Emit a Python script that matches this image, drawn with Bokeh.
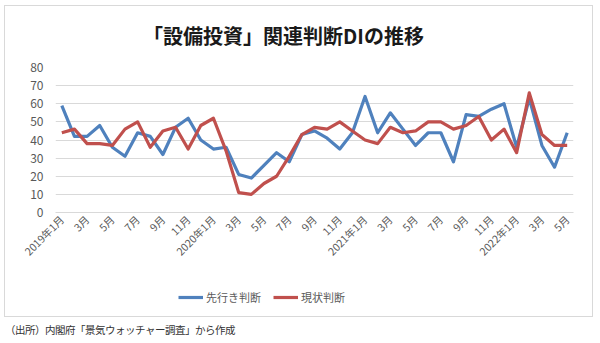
import math
from bokeh.plotting import figure
from bokeh.layouts import column
from bokeh.models import Range1d, FixedTicker, Legend, LegendItem, Label, Div
from bokeh.embed import file_html
from bokeh.resources import INLINE

# ---- data ----
tick_labels = ["2019年1月", "3月", "5月", "7月", "9月", "11月",
               "2020年1月", "3月", "5月", "7月", "9月", "11月",
               "2021年1月", "3月", "5月", "7月", "9月", "11月",
               "2022年1月", "3月", "5月"]

outlook = [59, 42, 42, 48, 36, 31, 44, 42, 32, 47, 52, 40,
           35, 36, 21, 19, 26, 33, 28, 43, 45, 41, 35, 44,
           64, 44, 55, 46, 37, 44, 44, 28, 54, 53, 57, 60,
           36, 63, 37, 25, 44]

current = [44, 46, 38, 38, 37, 46, 50, 36, 45, 47, 35, 48,
           52, 34, 11, 10, 16, 20, 31, 43, 47, 46, 50, 45,
           40, 38, 47, 44, 45, 50, 50, 46, 48, 53, 40, 46,
           33, 66, 43, 37, 37]

series_names = ["先行き判断", "現状判断"]
series_colors = ["#4f81bd", "#c0504d"]
title_text = "「設備投資」関連判断DIの推移"
source_text = "（出所）内閣府「景気ウォッチャー調査」から作成"

x = list(range(len(outlook)))
JP = "Noto Sans CJK JP"
GREY = "#595959"

W = 587
H_T, H_P, H_Q, H_D = 51, 213, 46, 26


def strip(h):
    f = figure(width=W, height=h, x_range=Range1d(0, 1), y_range=Range1d(0, 1),
               output_backend="svg", toolbar_location=None, tools="",
               x_axis_type=None, y_axis_type=None,
               min_border_left=0, min_border_right=0, min_border_top=0,
               min_border_bottom=0)
    f.outline_line_color = None
    f.xgrid.visible = False
    f.ygrid.visible = False
    f.background_fill_color = "white"
    f.border_fill_color = "white"
    return f


# ---------------- title strip ----------------
t = strip(H_T)
t.add_layout(Label(x=228, y=22, x_units="screen", y_units="screen",
                   text=title_text, text_align="center", text_baseline="middle",
                   text_font=JP, text_font_style="bold", text_font_size="20px",
                   text_color="#1a1a1a"))

# ---------------- main chart ----------------
p = figure(width=W, height=H_P, x_range=Range1d(-0.5, len(x) - 0.5),
           y_range=Range1d(0, 80), output_backend="svg", toolbar_location=None,
           tools="", min_border_left=50, min_border_right=19,
           min_border_top=10, min_border_bottom=58)
p.outline_line_color = None
p.background_fill_color = "white"
p.border_fill_color = "white"

p.xgrid.visible = False
p.ygrid.grid_line_color = "#d9d9d9"
p.ygrid.grid_line_width = 1

p.yaxis.ticker = FixedTicker(ticks=list(range(0, 81, 10)))
p.yaxis.axis_line_color = None
p.yaxis.major_tick_line_color = None
p.yaxis.minor_tick_line_color = None
p.yaxis.major_tick_out = 0
p.yaxis.major_tick_in = 0
p.yaxis.major_label_standoff = 12
p.yaxis.major_label_text_font = JP
p.yaxis.major_label_text_font_size = "12px"
p.yaxis.major_label_text_color = GREY

ticks = list(range(0, len(x), 2))
p.xaxis.ticker = FixedTicker(ticks=ticks)
p.xaxis.major_label_overrides = {tk: lab for tk, lab in zip(ticks, tick_labels)}
p.xaxis.major_label_orientation = math.pi / 4
p.xaxis.axis_line_color = "#d9d9d9"
p.xaxis.major_tick_line_color = None
p.xaxis.minor_tick_line_color = None
p.xaxis.major_tick_out = 0
p.xaxis.major_tick_in = 0
p.xaxis.major_label_standoff = 5
p.xaxis.major_label_text_font = JP
p.xaxis.major_label_text_font_size = "10.5px"
p.xaxis.major_label_text_color = GREY

p.line(x, outlook, line_color=series_colors[0], line_width=3.2, line_join="round")
p.line(x, current, line_color=series_colors[1], line_width=3.2, line_join="round")

# ---------------- legend strip ----------------
q = strip(H_Q)
q.extra_y_ranges = {"off": Range1d(1000, 1100)}
q.extra_x_ranges = {"idx": Range1d(-0.5, len(x) - 0.5)}
items = []
for name, col, vals in zip(series_names, series_colors, [outlook, current]):
    r = q.line(x, vals, line_color=col, line_width=3.2,
               x_range_name="idx", y_range_name="off")
    items.append(LegendItem(label=name, renderers=[r]))

legend = Legend(items=items, location=(123, 9), orientation="horizontal")
legend.padding = 0
legend.margin = 0
legend.spacing = 12
legend.glyph_width = 25
legend.label_standoff = 3
legend.border_line_alpha = 0
legend.background_fill_alpha = 0
legend.label_text_font = JP
legend.label_text_font_size = "11px"
legend.label_text_color = GREY
q.add_layout(legend)

# ---------------- source line ----------------
d = Div(text=source_text, width=595, height=H_D, margin=(0, 0, 0, 5),
        styles={"font-family": JP, "font-size": "10.5px", "color": "#333333",
                "line-height": "26px", "white-space": "nowrap",
                "letter-spacing": "-0.5px"})

chart_box = column(t, p, q, spacing=0, margin=(5, 0, 0, 4),
                   styles={"border": "1px solid #d9d9d9"})
layout = column(chart_box, d, spacing=0)
open("out.html", "w").write(file_html(layout, INLINE))
